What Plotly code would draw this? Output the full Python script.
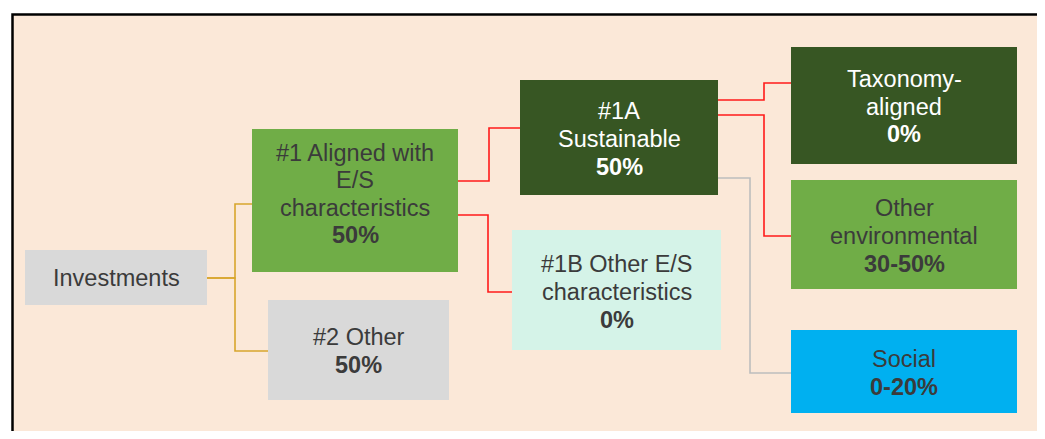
import plotly.graph_objects as go

# ---------------- data ----------------
node_ids = ["inv", "es", "other", "sust", "otheres", "tax", "env", "soc"]
node_text = [
    ["Investments"],
    ["#1 Aligned with", "E/S", "characteristics"],
    ["#2 Other"],
    ["#1A", "Sustainable"],
    ["#1B Other E/S", "characteristics"],
    ["Taxonomy-", "aligned"],
    ["Other", "environmental"],
    ["Social"],
]
node_share = ["", "50%", "50%", "50%", "0%", "0%", "30-50%", "0-20%"]
edge_parent = ["inv", "inv", "es", "es", "sust", "sust", "sust"]
edge_child = ["es", "other", "sust", "otheres", "tax", "env", "soc"]

# ---------------- layout / style ----------------
VIEW_W, VIEW_H = 1045, 439
OFF = 8  # page body margin
W, H = VIEW_W - 2 * OFF, VIEW_H - 2 * OFF
BG = "#FBE8D8"
box_geom = {  # x0, x1, y0, y1, text-center-y  (screen pixels)
    "inv": (25, 207, 250, 305, 278),
    "es": (252, 458, 129, 272, 194),
    "other": (268, 449, 300, 400, 351),
    "sust": (520, 718, 80, 195, 139),
    "otheres": (512, 721, 230, 350, 292),
    "tax": (791, 1017, 47, 164, 106.5),
    "env": (791, 1017, 180, 289, 236),
    "soc": (791, 1017, 330, 413, 373),
}
box_fill = {
    "inv": "#D9D9D9", "es": "#70AD47", "other": "#D9D9D9", "sust": "#375623",
    "otheres": "#D5F3E8", "tax": "#375623", "env": "#70AD47", "soc": "#00B0F0",
}
box_font = {k: ("#FFFFFF" if v == "#375623" else "#3B3B3B") for k, v in box_fill.items()}
# per edge: y leaving parent, y entering child, elbow x, colour
edge_geom = [
    (278, 204, 235, "#D8A52C"),
    (278, 351, 235, "#D8A52C"),
    (181, 128, 489, "#FF1A1A"),
    (215, 292, 488, "#FF1A1A"),
    (100, 83, 764, "#FF1A1A"),
    (115, 236, 764, "#FF1A1A"),
    (178, 373, 750, "#BDBDBD"),
]
LINE_H = 27.6
FONT = "Liberation Sans, Arial, sans-serif"
FS = 23.5

fig = go.Figure()

# connectors
for p, c, (yo, yi, ex, col) in zip(edge_parent, edge_child, edge_geom):
    px1 = box_geom[p][1]
    cx0 = box_geom[c][0]
    fig.add_trace(go.Scatter(
        x=[px1, ex, ex, cx0], y=[yo, yo, yi, yi], mode="lines",
        line=dict(color=col, width=1.6), hoverinfo="skip", showlegend=False))

shapes = [dict(type="rect", xref="x", yref="y", x0=12.5, y0=14.5, x1=1100, y1=500,
               fillcolor=BG, line=dict(color="black", width=2.5), layer="below")]
annotations = []
for nid, lines, share in zip(node_ids, node_text, node_share):
    x0, x1, y0, y1, ty = box_geom[nid]
    shapes.append(dict(type="rect", xref="x", yref="y", x0=x0, x1=x1, y0=y0, y1=y1,
                       fillcolor=box_fill[nid], line=dict(width=0), layer="above"))
    all_lines = list(lines) + ([f"<b>{share}</b>"] if share else [])
    n = len(all_lines)
    for i, t in enumerate(all_lines):
        y = ty + (i - (n - 1) / 2) * LINE_H
        annotations.append(dict(
            x=(x0 + x1) / 2, y=y, xref="x", yref="y", text=t, showarrow=False,
            font=dict(family=FONT, size=FS, color=box_font[nid]),
            xanchor="center", yanchor="middle"))

fig.update_layout(
    width=W, height=H, margin=dict(l=0, r=0, t=0, b=0),
    paper_bgcolor="white", plot_bgcolor="white",
    xaxis=dict(range=[OFF, W + OFF], visible=False, fixedrange=True),
    yaxis=dict(range=[H + OFF, OFF], visible=False, fixedrange=True),
    shapes=shapes, annotations=annotations, showlegend=False,
)
fig.write_html("out.html")
